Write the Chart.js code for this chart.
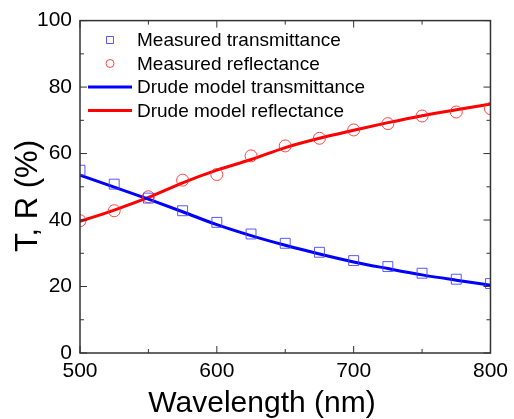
<!DOCTYPE html>
<html lang="en">
<head>
<meta charset="UTF-8">
<title>T, R vs wavelength</title>
<script src="https://cdn.jsdelivr.net/npm/chart.js"></script>
<style>
    body { margin: 0; padding: 0; background: #fff; }
    #chart { display: block; }
</style>
</head>
<body>
<canvas id="chart" width="514" height="419"></canvas>
<script>
// wavelength (nm)
const wavelength = [500, 525, 550, 575, 600, 625, 650, 675, 700, 725, 750, 775, 800];
// measured values (%)
const measuredT = [55.0, 50.8, 46.6, 42.8, 39.3, 35.8, 33.0, 30.3, 27.8, 26.0, 24.0, 22.2, 20.9];
const measuredR = [39.8, 42.8, 47.0, 52.0, 53.7, 59.3, 62.3, 64.6, 67.1, 69.0, 71.3, 72.5, 73.5];
// Drude model curves (%)
const modelT = [53.5, 49.9, 46.3, 42.5, 38.6, 35.3, 32.4, 29.8, 27.4, 25.4, 23.5, 21.9, 20.4];
const modelR = [39.6, 43.0, 46.8, 51.2, 55.0, 58.2, 61.8, 64.6, 67.0, 69.3, 71.4, 73.2, 74.9];

const xTicks = [500, 600, 700, 800];
const yTicks = [0, 20, 40, 60, 80, 100];
const xTitle = 'Wavelength (nm)';
const yTitle = 'T, R (%)';

const FONT = "'Liberation Sans', Arial, sans-serif";

function pts(ys) {
    return wavelength.map((w, i) => ({ x: w, y: ys[i] }));
}

// frame box with inward ticks on all four sides
const frameTicks = {
    id: 'frameTicks',
    afterDatasetsDraw(chart) {
        const { ctx, chartArea: a, scales: { x, y } } = chart;
        ctx.save();
        ctx.strokeStyle = '#333';
        ctx.lineWidth = 1;
        ctx.beginPath();
        for (let i = 0; i < xTicks.length; i++) {
            const px = x.getPixelForValue(xTicks[i]);
            ctx.moveTo(px, a.bottom); ctx.lineTo(px, a.bottom - 7);
            ctx.moveTo(px, a.top); ctx.lineTo(px, a.top + 7);
            if (i < xTicks.length - 1) {
                const mx = x.getPixelForValue((xTicks[i] + xTicks[i + 1]) / 2);
                ctx.moveTo(mx, a.bottom); ctx.lineTo(mx, a.bottom - 4);
                ctx.moveTo(mx, a.top); ctx.lineTo(mx, a.top + 4);
            }
        }
        for (let i = 0; i < yTicks.length; i++) {
            const py = y.getPixelForValue(yTicks[i]);
            ctx.moveTo(a.left, py); ctx.lineTo(a.left + 7, py);
            ctx.moveTo(a.right, py); ctx.lineTo(a.right - 7, py);
            if (i < yTicks.length - 1) {
                const my = y.getPixelForValue((yTicks[i] + yTicks[i + 1]) / 2);
                ctx.moveTo(a.left, my); ctx.lineTo(a.left + 4, my);
                ctx.moveTo(a.right, my); ctx.lineTo(a.right - 4, my);
            }
        }
        ctx.stroke();
        ctx.lineWidth = 1.5;
        ctx.strokeRect(a.left, a.top, a.right - a.left, a.bottom - a.top);
        ctx.restore();
    }
};

// axis titles (placed a little off-centre, as in the original figure)
const axisTitles = {
    id: 'axisTitles',
    afterDraw(chart) {
        const { ctx } = chart;
        ctx.save();
        ctx.fillStyle = '#000';
        ctx.textAlign = 'center';
        ctx.textBaseline = 'alphabetic';
        ctx.font = '30px ' + FONT;
        ctx.fillText(xTitle, 262, 412);
        ctx.translate(37, 196);
        ctx.rotate(-Math.PI / 2);
        ctx.font = '31px ' + FONT;
        ctx.fillText(yTitle, 0, 0);
        ctx.restore();
    }
};

// legend drawn inside the plot, top left
const insideLegend = {
    id: 'insideLegend',
    afterDraw(chart) {
        const { ctx } = chart;
        const rows = [40, 63.5, 87, 110.5];
        ctx.save();
        ctx.font = '19px ' + FONT;
        ctx.textBaseline = 'middle';
        ctx.fillStyle = '#000';
        chart.data.datasets.forEach((ds, i) => {
            const yy = rows[i];
            if (ds.showLine === false) {
                ctx.strokeStyle = ds.borderColor;
                ctx.lineWidth = 1;
                ctx.beginPath();
                if (ds.pointStyle === 'rect') {
                    ctx.rect(106.5, yy - 3.5, 7, 7);
                } else {
                    ctx.arc(110, yy, 4, 0, Math.PI * 2);
                }
                ctx.stroke();
            } else {
                ctx.strokeStyle = ds.borderColor;
                ctx.lineWidth = ds.borderWidth;
                ctx.beginPath();
                ctx.moveTo(88, yy);
                ctx.lineTo(132, yy);
                ctx.stroke();
            }
            ctx.fillText(ds.label, 137, yy + 1);
        });
        ctx.restore();
    }
};

new Chart(document.getElementById('chart'), {
    type: 'line',
    data: {
        datasets: [{
            label: 'Measured transmittance',
            data: pts(measuredT),
            showLine: false,
            pointStyle: 'rect',
            pointRadius: 7,
            pointBorderWidth: 1,
            borderColor: 'rgba(60, 60, 255, 0.85)',
            pointBackgroundColor: 'rgba(0,0,0,0)',
            clip: 0
        }, {
            label: 'Measured reflectance',
            data: pts(measuredR),
            showLine: false,
            pointStyle: 'circle',
            pointRadius: 6,
            pointBorderWidth: 1,
            borderColor: 'rgba(255, 40, 40, 0.85)',
            pointBackgroundColor: 'rgba(0,0,0,0)',
            clip: 0
        }, {
            label: 'Drude model transmittance',
            data: pts(modelT),
            borderColor: '#0000ff',
            borderWidth: 3,
            pointRadius: 0,
            cubicInterpolationMode: 'monotone',
            clip: 0
        }, {
            label: 'Drude model reflectance',
            data: pts(modelR),
            borderColor: '#ff0000',
            borderWidth: 3,
            pointRadius: 0,
            cubicInterpolationMode: 'monotone',
            clip: 0
        }]
    },
    options: {
        responsive: false,
        animation: false,
        devicePixelRatio: 1,
        layout: { padding: { top: 19, right: 23, left: 0, bottom: 0 } },
        plugins: {
            legend: { display: false },
            tooltip: { enabled: false }
        },
        scales: {
            x: {
                type: 'linear',
                min: 500,
                max: 800,
                afterFit: s => { s.height = 66; },
                afterBuildTicks: s => { s.ticks = xTicks.map(v => ({ value: v })); },
                grid: { display: false, drawTicks: false },
                border: { display: false },
                ticks: { color: '#000', font: { family: FONT, size: 21 }, padding: 6, maxRotation: 0 }
            },
            y: {
                min: 0,
                max: 100,
                afterFit: s => { s.width = 80; },
                afterBuildTicks: s => { s.ticks = yTicks.map(v => ({ value: v })); },
                grid: { display: false, drawTicks: false },
                border: { display: false },
                ticks: { color: '#000', font: { family: FONT, size: 21 }, padding: 8 }
            }
        }
    },
    plugins: [frameTicks, axisTitles, insideLegend]
});
</script>
</body>
</html>
